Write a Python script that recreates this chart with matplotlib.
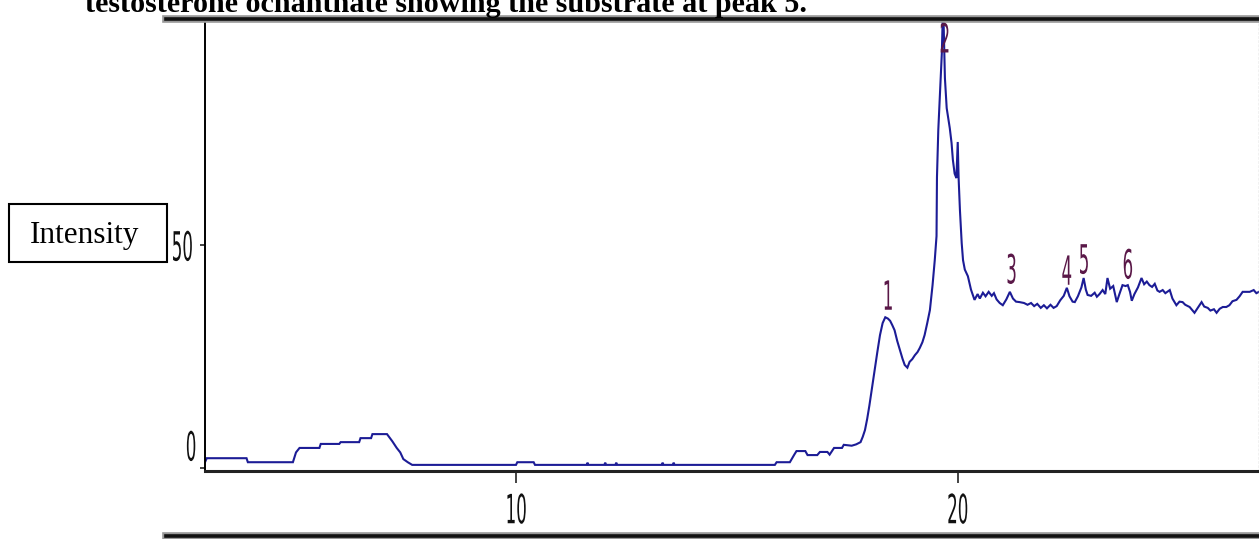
import matplotlib
matplotlib.use("Agg")
import matplotlib.pyplot as plt
import matplotlib.transforms as mtransforms
from matplotlib import patheffects
from matplotlib.lines import Line2D
from matplotlib.patches import Rectangle

# chromatogram trace (retention time, relative intensity)
time = [2.96, 3.0, 3.9, 3.93, 4.95, 5.02, 5.1, 5.55, 5.58, 6.0, 6.03, 6.45, 6.48, 6.72,
        6.75, 7.08, 7.2, 7.3, 7.38, 7.45, 7.55, 7.65, 10.0, 10.03, 10.4, 10.43, 11.6,
        11.62, 11.64, 12.0, 12.02, 12.04, 12.25, 12.27, 12.29, 13.3, 13.32, 13.34, 13.55,
        13.57, 13.59, 15.86, 15.9, 16.2, 16.3, 16.35, 16.55, 16.6, 16.82, 16.88, 17.05,
        17.1, 17.2, 17.38, 17.42, 17.6, 17.7, 17.8, 17.85, 17.9, 17.95, 18.0, 18.06, 18.12,
        18.18, 18.24, 18.3, 18.36, 18.42, 18.47, 18.52, 18.57, 18.63, 18.69, 18.75, 18.8,
        18.86, 18.91, 18.97, 19.03, 19.09, 19.14, 19.2, 19.25, 19.31, 19.37, 19.43, 19.48,
        19.52, 19.53, 19.56, 19.6, 19.64, 19.66, 19.68, 19.71, 19.75, 19.82, 19.86, 19.89,
        19.93, 19.97, 20.0, 20.02, 20.05, 20.09, 20.12, 20.16, 20.23, 20.3, 20.38, 20.45,
        20.5, 20.57, 20.63, 20.7, 20.77, 20.82, 20.88, 20.95, 21.02, 21.1, 21.18, 21.25,
        21.32, 21.4, 21.5, 21.58, 21.66, 21.73, 21.8, 21.88, 21.95, 22.02, 22.1, 22.17,
        22.24, 22.32, 22.4, 22.47, 22.53, 22.6, 22.65, 22.72, 22.8, 22.85, 22.9, 22.94,
        23.02, 23.1, 23.15, 23.21, 23.28, 23.34, 23.39, 23.45, 23.52, 23.6, 23.66, 23.73,
        23.8, 23.85, 23.9, 23.94, 24.0, 24.08, 24.16, 24.22, 24.28, 24.34, 24.4, 24.46,
        24.52, 24.57, 24.64, 24.7, 24.8, 24.86, 24.95, 25.02, 25.09, 25.15, 25.25, 25.3,
        25.36, 25.44, 25.52, 25.58, 25.66, 25.72, 25.8, 25.86, 25.93, 26.0, 26.08, 26.15,
        26.22, 26.31, 26.38, 26.45, 26.53, 26.61, 26.7, 26.76, 26.82]
intensity = [1.3, 2.2, 2.2, 1.3, 1.3, 3.5, 4.5, 4.5, 5.4, 5.4, 5.8, 5.8, 6.7, 6.7,
             7.6, 7.6, 6.0, 4.5, 3.5, 2.0, 1.3, 0.7, 0.7, 1.3, 1.3, 0.7, 0.7,
             1.2, 0.7, 0.7, 1.2, 0.7, 0.7, 1.2, 0.7, 0.7, 1.2, 0.7, 0.7,
             1.2, 0.7, 0.7, 1.3, 1.3, 3.0, 3.8, 3.8, 2.9, 2.9, 3.6, 3.6,
             3.0, 4.5, 4.5, 5.2, 5.0, 5.3, 5.8, 7.0, 8.5, 11.0, 14.0, 18.0, 22.0,
             26.0, 29.8, 32.5, 33.8, 33.5, 33.0, 32.0, 30.9, 28.5, 26.5, 24.5, 23.1,
             22.5, 23.8, 24.4, 25.3, 26.0, 26.9, 28.2, 29.8, 32.5, 35.4, 41.0, 46.6,
             52.0, 65.2, 75.8, 84.3, 93.0, 101.0, 100.0, 87.4, 80.7, 76.2, 72.9, 69.1,
             66.0, 65.0, 73.1, 65.0, 57.8, 50.4, 46.6, 44.5, 43.0, 40.0, 37.7, 39.0,
             38.0, 39.3, 38.5, 39.5, 38.6, 39.2, 37.8, 37.0, 36.5, 37.8, 39.5, 38.0,
             37.3, 37.2, 37.0, 36.6, 37.0, 36.3, 36.8, 35.9, 36.5, 35.8, 36.6, 35.9,
             36.3, 37.6, 38.6, 40.4, 38.5, 37.3, 37.2, 38.5, 40.5, 42.6, 40.0, 38.8,
             38.6, 39.3, 38.4, 39.0, 39.9, 39.0, 42.6, 40.2, 40.8, 37.2, 39.0, 41.0,
             40.8, 41.0, 39.5, 37.5, 39.0, 40.5, 42.6, 41.2, 41.8, 41.0, 40.6, 41.3,
             39.8, 39.5, 39.9, 39.2, 39.9, 38.0, 36.5, 37.3, 37.2, 36.6, 36.1, 35.5,
             34.8, 36.0, 37.2, 36.2, 35.9, 35.3, 35.6, 34.8, 35.7, 36.1, 36.1, 36.5,
             37.4, 37.7, 38.5, 39.5, 39.5, 39.5, 39.9, 39.2, 39.5]

# numbered peaks and where their numbers sit
peak_names = ["1", "2", "3", "4", "5", "6"]
peak_x = [18.42, 19.71, 21.22, 22.47, 22.86, 23.85]
peak_y = [38.3, 96.0, 44.2, 43.9, 46.4, 45.3]

x_ticks = [10, 20]
y_ticks = [0, 50]

title = "testosterone ochanthate showing the substrate at peak 5."


class Stretch(patheffects.AbstractPathEffect):
    """Squeeze glyphs sideways and pull them taller, about their own centre."""

    def __init__(self, sx=0.6, sy=1.45):
        super().__init__()
        self.sx = sx
        self.sy = sy

    def draw_path(self, renderer, gc, tpath, affine, rgbFace=None):
        ext = tpath.get_extents(affine)
        cx = (ext.x0 + ext.x1) / 2
        cy = (ext.y0 + ext.y1) / 2
        squash = mtransforms.Affine2D().translate(-cx, -cy).scale(self.sx, self.sy).translate(cx, cy)
        renderer.draw_path(gc, tpath, affine + squash, rgbFace)


narrow = [Stretch()]
serif = "Liberation Serif"

W, H = 1259, 539
fig = plt.figure(figsize=(W / 100, H / 100), dpi=100)
fig.patch.set_facecolor("white")

ax = fig.add_axes([205 / W, 1 - 471 / H, 1 - 205 / W, (471 - 20) / H])
ax.plot(time, intensity, color="#1c1c96", lw=1.5, solid_joinstyle="miter")
ax.set_xlim(2.96, 26.82)
ax.set_ylim(-0.67, 100.45)

for name, px, py in zip(peak_names, peak_x, peak_y):
    ax.text(px, py, name, color="#5a1848", fontsize=20, family="DejaVu Sans",
            ha="center", va="center", path_effects=narrow)

ax.set_xticks(x_ticks)
ax.set_xticklabels([str(t) for t in x_ticks])
ax.set_yticks(y_ticks)
ax.set_yticklabels([str(t) for t in y_ticks])
ax.tick_params(axis="x", direction="out", length=8.5, width=1.1, pad=10,
               labelsize=20, colors="#111111")
ax.tick_params(axis="y", direction="out", length=3.6, width=1.1, pad=0,
               labelsize=20, colors="#111111")
for lab in ax.get_xticklabels() + ax.get_yticklabels():
    lab.set_path_effects(narrow)

# the zero label is drawn a little above its tick
zero_lab = ax.get_yticklabels()[0]
zero_lab.set_transform(zero_lab.get_transform() +
                       mtransforms.ScaledTranslation(0, 0.23, fig.dpi_scale_trans))

ax.spines["top"].set_visible(False)
ax.spines["left"].set_linewidth(1.4)
ax.spines["bottom"].set_linewidth(2.2)
ax.spines["bottom"].set_color("#222222")
ax.spines["right"].set_color("#bbbbbb")
ax.spines["right"].set_linestyle((0, (1, 2)))
ax.spines["right"].set_linewidth(1.0)

# rules across the page above and below the plot
for ypx in (18.5, 536):
    yf = 1 - ypx / H
    fig.add_artist(Line2D([166 / W, 1], [yf, yf], color="#999999", lw=5.5,
                          transform=fig.transFigure))
    fig.add_artist(Line2D([166 / W, 1], [yf, yf], color="#111111", lw=2.6,
                          transform=fig.transFigure))

fig.text(85 / W, 1 - 12 / H, title, fontsize=21.7, fontweight="bold",
         family=serif, ha="left", va="baseline")

# y axis caption in its own box
fig.add_artist(Rectangle((8.5 / W, 1 - 262 / H), 159 / W, 58 / H, fill=False,
                         ec="black", lw=1.5, transform=fig.transFigure))
fig.text(85 / W, 1 - 243 / H, "Intensity", fontsize=22.5, family=serif,
         ha="center", va="baseline")

fig.savefig("out.png", dpi=100)
